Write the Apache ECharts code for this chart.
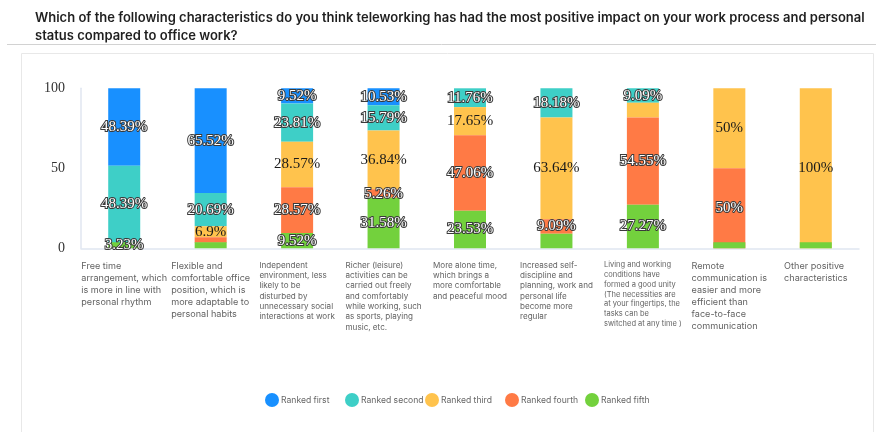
<!DOCTYPE html>
<html>
<head>
<meta charset="utf-8">
<script src="https://cdn.jsdelivr.net/npm/echarts@6/dist/echarts.min.js"></script>
<style>
  html, body { margin: 0; padding: 0; background: #fff; }
  #chart { width: 876px; height: 432px; }
</style>
</head>
<body>
<div id="chart"></div>
<script>
// Survey categories (wrapped as they appear under each column)
const categories = [
  'Free time\narrangement, which\nis more in line with\npersonal rhythm',
  'Flexible and\ncomfortable office\nposition, which is\nmore adaptable to\npersonal habits',
  'Independent\nenvironment, less\nlikely to be\ndisturbed by\nunnecessary social\ninteractions at work',
  'Richer (leisure)\nactivities can be\ncarried out freely\nand comfortably\nwhile working, such\nas sports, playing\nmusic, etc.',
  'More alone time,\nwhich brings a\nmore comfortable\nand peaceful mood',
  'Increased self-\ndiscipline and\nplanning, work and\npersonal life\nbecome more\nregular',
  'Living and working\nconditions have\nformed a good unity\n(The necessities are\nat your fingertips, the\ntasks can be\nswitched at any time )',
  'Remote\ncommunication is\neasier and more\nefficient than\nface-to-face\ncommunication',
  'Other positive\ncharacteristics'
];

const seriesNames = ['Ranked first', 'Ranked second', 'Ranked third', 'Ranked fourth', 'Ranked fifth'];

// Share of respondents (%) per rank
const rankedFirst  = [48.39, 65.52, 9.52, 10.53, 0, 0, 0, 0, 0];
const rankedSecond = [48.39, 20.69, 23.81, 15.79, 11.76, 18.18, 9.09, 0, 0];
const rankedThird  = [0, 6.9, 28.57, 36.84, 17.65, 63.64, 9.09, 50, 100];
const rankedFourth = [0, 3.45, 28.57, 5.26, 47.06, 9.09, 54.55, 50, 0];
const rankedFifth  = [3.23, 3.45, 9.52, 31.58, 23.53, 9.09, 27.27, 0, 0];

const yTicks = [0, 50, 100];

const seriesValues = [rankedFirst, rankedSecond, rankedThird, rankedFourth, rankedFifth];
const colors = ['#1890ff', '#3ecfc7', '#ffc34d', '#ff7a45', '#73d13d'];

// font size group for each category's caption
const captionStyle = ['a', 'a', 'b', 'b', 'b', 'b', 'c', 'a', 'a'];

// Segments are stacked from "Ranked fifth" (bottom) up to "Ranked first".
// A label is dropped when it would collide with the label of the next
// non-empty segment above it (both segments too thin to hold two labels).
function labelVisible(si, di) {
  const own = seriesValues[si][di];
  if (!own) return false;
  for (let j = si - 1; j >= 0; j--) {
    const above = seriesValues[j][di];
    if (above) return own + above >= 20;
  }
  return true;
}

const darkLabel = { color: '#ffffff', textBorderColor: '#3a3a3a', textBorderWidth: 2 };
const lightLabel = { color: '#1a1a1a', textBorderWidth: 0 };

const series = seriesNames.map((name, i) => ({
  name,
  type: 'bar',
  stack: 'total',
  stackOrder: 'seriesDesc',
  barWidth: 32,
  barMinHeight: i === 4 ? 6 : 0,
  data: seriesValues[i],
  itemStyle: { color: colors[i] },
  label: Object.assign({
    show: true,
    position: 'inside',
    fontFamily: 'Liberation Serif',
    fontSize: 15,
    formatter: p => (labelVisible(p.seriesIndex, p.dataIndex) ? p.value + '%' : '')
  }, i === 2 ? lightLabel : darkLabel)
}));

// one legend block per rank so the items sit on an even pitch
const legends = seriesNames.map((name, i) => ({
  data: [name],
  left: 265 + 80 * i,
  top: 393,
  padding: 0,
  icon: 'circle',
  itemWidth: 14,
  itemHeight: 14,
  textStyle: {
    fontFamily: 'Inter',
    fontSize: 8.6,
    color: '#666666',
    padding: [0, 0, 0, -3]
  }
}));

const captionFont = { fontFamily: 'Inter', color: '#636363', align: 'left' };

const chart = echarts.init(document.getElementById('chart'), null, { renderer: 'canvas' });

chart.setOption({
  animation: false,
  backgroundColor: '#ffffff',
  color: colors,
  title: {
    text: 'Which of the following characteristics do you think teleworking has had the most positive impact on your work process and personal\nstatus compared to office work?',
    left: 30,
    top: 4,
    textStyle: {
      fontFamily: 'Inter',
      fontWeight: 600,
      fontSize: 13,
      lineHeight: 18,
      color: '#1f1f1f'
    }
  },
  graphic: [
    {
      type: 'line',
      shape: { x1: 7, y1: 44.5, x2: 876, y2: 44.5 },
      style: { stroke: '#d2d2d2', lineWidth: 1 },
      z: -1
    },
    {
      type: 'rect',
      shape: { x: 21.5, y: 53.5, width: 852, height: 400 },
      style: { fill: 'none', stroke: '#e8e8e8', lineWidth: 1 },
      z: -1
    }
  ],
  legend: legends,
  grid: {
    left: 81,
    right: 17,
    top: 88.3,
    bottom: 183.7,
    containLabel: false
  },
  xAxis: {
    type: 'category',
    data: categories,
    axisLine: { show: true, lineStyle: { color: '#e0e6f1', width: 1.5 } },
    axisTick: { show: false },
    axisLabel: {
      interval: 0,
      margin: 12,
      formatter: (value, index) => '{' + captionStyle[index] + '|' + value + '}',
      rich: {
        a: Object.assign({ fontSize: 9.1, lineHeight: 12 }, captionFont),
        b: Object.assign({ fontSize: 8.1, lineHeight: 10.3 }, captionFont),
        c: Object.assign({ fontSize: 7.5, lineHeight: 9.7 }, captionFont)
      }
    }
  },
  yAxis: {
    type: 'value',
    min: yTicks[0],
    max: yTicks[yTicks.length - 1],
    interval: yTicks[1] - yTicks[0],
    axisLine: { show: true, lineStyle: { color: '#e0e6f1', width: 1.5 } },
    axisTick: { show: false },
    splitLine: { show: false },
    axisLabel: {
      margin: 16,
      fontFamily: 'Liberation Serif',
      fontSize: 14,
      color: '#333333'
    }
  },
  series
});
</script>
</body>
</html>
